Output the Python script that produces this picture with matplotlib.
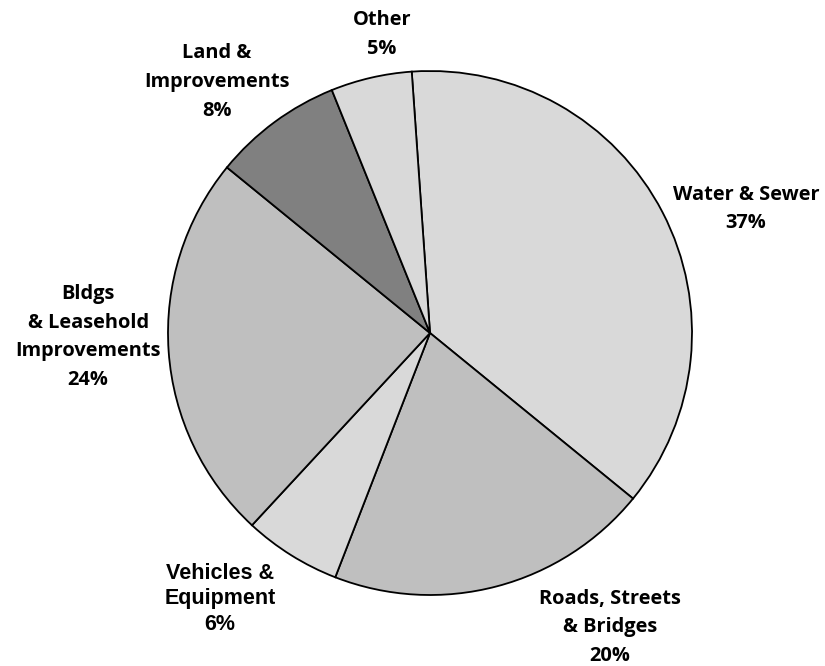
import matplotlib
matplotlib.use("Agg")
import matplotlib.pyplot as plt

# slice data, clockwise from the top
categories = ["Water & Sewer", "Roads, Streets\n& Bridges", "Vehicles &\nEquipment",
              "Bldgs\n& Leasehold\nImprovements", "Land &\nImprovements", "Other"]
shares = [37, 20, 6, 24, 8, 5]
colors = ["#d9d9d9", "#bfbfbf", "#d9d9d9", "#bfbfbf", "#808080", "#d9d9d9"]

# label positions in data units (pie radius = 1)
label_xy = [(1.206, 0.473), (0.687, -1.124), (-0.802, -1.015),
            (-1.305, -0.015), (-0.813, 0.958), (-0.183, 1.138)]
label_fonts = ["Open Sans", "Open Sans", "Liberation Sans", "Open Sans", "Open Sans", "Open Sans"]
label_sizes = [14.4, 14.4, 15.5, 14.4, 14.4, 14.4]
label_spacing = [1.58, 1.58, 1.3, 1.58, 1.58, 1.58]

fig = plt.figure(figsize=(8.25, 6.66), dpi=100)
ax = fig.add_axes([0, 0, 1, 1])

ax.pie(shares, colors=colors, startangle=94, counterclock=False,
       radius=1.0, center=(0, 0),
       wedgeprops=dict(edgecolor="black", linewidth=1.3))

for cat, val, (x, y), fam, fs, ls in zip(categories, shares, label_xy, label_fonts,
                                         label_sizes, label_spacing):
    ax.text(x, y, "%s\n%d%%" % (cat, val), ha="center", va="center",
            fontsize=fs, fontweight="bold", family=[fam, "DejaVu Sans"],
            linespacing=ls, color="black")

ax.set_xlim(-430 / 262, (825 - 430) / 262)
ax.set_ylim(-333 / 262, 333 / 262)
ax.set_aspect("equal")
ax.axis("off")

fig.savefig("out.png", dpi=100)
